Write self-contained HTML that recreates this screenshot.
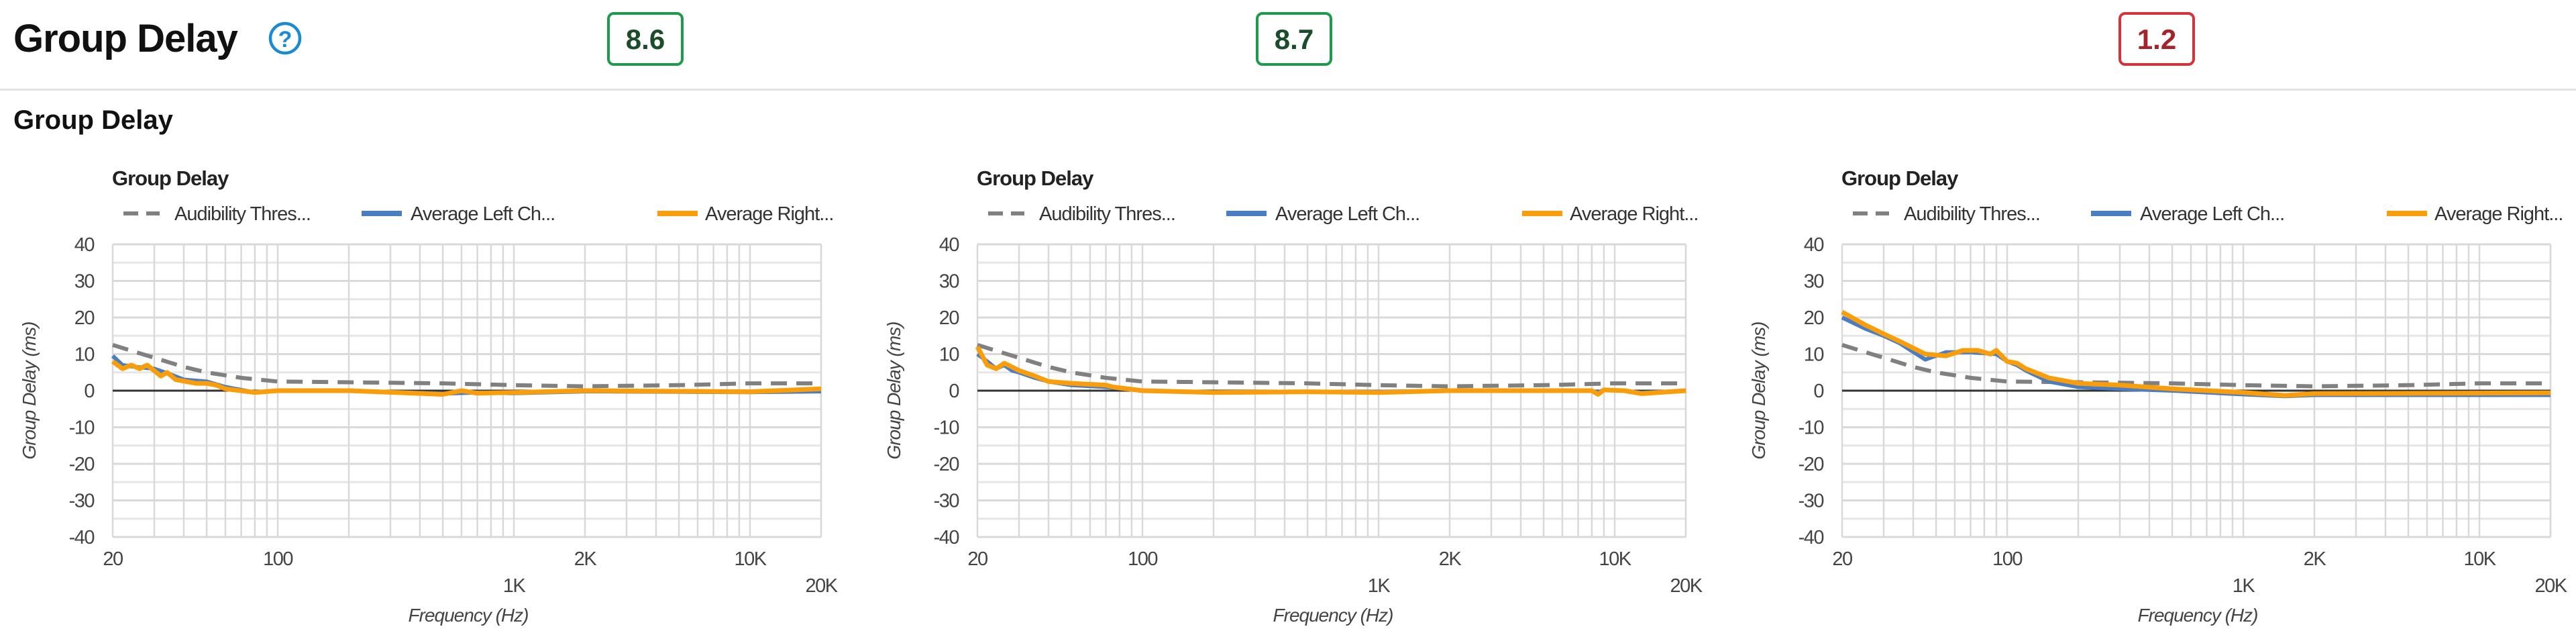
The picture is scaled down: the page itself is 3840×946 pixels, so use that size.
<!DOCTYPE html>
<html><head><meta charset="utf-8"><style>
html,body{margin:0;padding:0;background:#fff;width:3840px;height:946px;overflow:hidden}
svg{display:block;font-family:"Liberation Sans",Arial,sans-serif}
</style></head><body>
<svg id="page" width="3840" height="946" viewBox="0 0 3840 946" xmlns="http://www.w3.org/2000/svg">
<text x="20" y="77" font-size="58" font-weight="bold" fill="#111" letter-spacing="-1">Group Delay</text>
<g>
<circle cx="425" cy="57" r="22" fill="none" stroke="#1a8ad4" stroke-width="4.5"/>
<text x="425" y="70" font-size="34" font-weight="bold" fill="#1a8ad4" text-anchor="middle">?</text>
</g>
<g><rect x="907" y="20" width="110" height="76" rx="8" fill="#fff" stroke="#1e9a4b" stroke-width="4"/><text x="962" y="73" font-size="42" font-weight="bold" fill="#1b4d2a" text-anchor="middle">8.6</text></g>
<g><rect x="1874" y="20" width="110" height="76" rx="8" fill="#fff" stroke="#1e9a4b" stroke-width="4"/><text x="1929" y="73" font-size="42" font-weight="bold" fill="#1b4d2a" text-anchor="middle">8.7</text></g>
<g><rect x="3160" y="20" width="110" height="76" rx="8" fill="#fff" stroke="#d6323a" stroke-width="4"/><text x="3215" y="73" font-size="42" font-weight="bold" fill="#a5232a" text-anchor="middle">1.2</text></g>
<rect x="0" y="132" width="3840" height="3" fill="#e2e2e2"/>
<text x="20" y="192" font-size="40" font-weight="bold" fill="#111">Group Delay</text>
<g id="charts"></g>
</svg>
<script>
const freqThr=[20,30,40,50,70,100,200,500,1000,2000,5000,10000,20000];
const valThr=[12.5,9,6.5,5,3.5,2.5,2.3,2,1.5,1.2,1.5,2,2];

const freq1L=[20,22,25,30,35,40,50,60,80,100,200,500,700,1000,2000,10000,20000];
const val1L=[9.5,7,6.5,6,4.5,3,2.5,1,-0.5,0,0,-0.8,-0.5,-0.7,-0.2,-0.4,-0.2];
const freq1R=[20,22,24,26,28,32,34,37,45,50,55,60,80,100,200,500,600,700,1000,2000,10000,20000];
const val1R=[8,6,7,6,7,4,5,3,2,2,1.5,0.5,-0.5,0,0,-1,0,-0.7,-0.5,0,-0.3,0.5];

const freq2L=[20,22,24,26,28,30,35,40,50,70,100,200,500,1000,2000,8000,8500,9000,11000,13000,20000];
const val2L=[10,8,6,7,5.5,5,3.5,2.5,1.5,1,0,-0.5,-0.3,-0.3,0,0,-0.5,0.2,0,-0.6,0];
const freq2R=[20,22,24,26,28,30,35,40,50,70,75,100,200,500,1000,2000,8000,8500,9000,11000,13000,20000];
const val2R=[12,7,6,7.5,6.5,5.5,4,2.5,2,1.5,1,0,-0.5,-0.3,-0.5,0,0,-1,0.2,0,-0.8,0];

const freq3L=[20,25,30,35,45,55,70,90,100,110,120,150,200,300,500,1000,1500,2000,20000];
const val3L=[20,17,15,13,8.5,10.5,10.5,10,8,7,5.5,2.5,1,0.5,0,-1,-1.5,-1.2,-1.2];
const freq3R=[20,25,30,35,45,55,65,75,85,90,100,110,120,150,200,300,500,1000,1500,2000,20000];
const val3R=[21.5,18,15.5,13.5,10,9.5,11,11,10,11,8,7.5,6,3.5,2,1.5,0.5,-0.5,-1.3,-0.8,-0.6];

const yTicks=[40,30,20,10,0,-10,-20,-30,-40];
const xTickUpper=[[20,"20"],[100,"100"],[2000,"2K"],[10000,"10K"]];
const xTickLower=[[1000,"1K"],[20000,"20K"]];
const legendNames=["Audibility Thres...","Average Left Ch...","Average Right..."];

const charts=[
 {left:168,fL:freq1L,vL:val1L,fR:freq1R,vR:val1R},
 {left:1457,fL:freq2L,vL:val2L,fR:freq2R,vR:val2R},
 {left:2746,fL:freq3L,vL:val3L,fR:freq3R,vR:val3R}
];
const NS="http://www.w3.org/2000/svg";
const W=1056,TOP=364,BOT=800;
function mk(tag,attrs,parent,txt){const e=document.createElementNS(NS,tag);for(const k in attrs)e.setAttribute(k,attrs[k]);if(txt!==undefined)e.textContent=txt;parent.appendChild(e);return e;}
const root=document.getElementById('charts');
charts.forEach((c,ci)=>{
 const g=mk('g',{},root);
 
 
 const L=c.left;
 const xs=f=>L+W*Math.log10(f/20)/3;
 const ys=v=>TOP+(40-v)/80*(BOT-TOP);
 const t=mk('text',{x:L-1,y:276,'font-size':31,'font-weight':'bold',fill:'#222','letter-spacing':'-1'},g,'Group Delay');
 
 
 const lg=mk('g',{},g);
 
 
 const lx=[[L+16,L+92],[L+371,L+444],[L+812,L+883]];
 const lcol=['#808080','#4a7ec4','#f99d0a'];
 lx.forEach((p,i)=>{
  const e=mk('g',{},lg);
  
  
  if(i===0){mk('line',{x1:p[0],y1:318,x2:p[0]+54,y2:318,stroke:lcol[0],'stroke-width':6,'stroke-dasharray':'22,12'},e);}
  else mk('line',{x1:p[0],y1:318,x2:p[0]+60,y2:318,stroke:lcol[i],'stroke-width':8},e);
  mk('text',{x:p[1],y:328,'font-size':29,fill:'#333','letter-spacing':'-1'},e,legendNames[i]);
 });
 const gr=mk('g',{},g);
 
 
 for(let v=-35;v<=35;v+=10) mk('line',{x1:L,x2:L+W,y1:ys(v),y2:ys(v),stroke:'#e6e6e6','stroke-width':3},gr);
 for(let v=-40;v<=40;v+=10) mk('line',{x1:L,x2:L+W,y1:ys(v),y2:ys(v),stroke:'#d9d9d9','stroke-width':3},gr);
 for(let d=10;d<=10000;d*=10) for(let m=1;m<=9;m++){const f=d*m;if(f<20||f>20000)continue;mk('line',{x1:xs(f),x2:xs(f),y1:TOP,y2:BOT,stroke:'#d9d9d9','stroke-width':2.5},gr);}
 mk('line',{x1:xs(20000),x2:xs(20000),y1:TOP,y2:BOT,stroke:'#d9d9d9','stroke-width':2.5},gr);
 mk('line',{x1:L,x2:L+W,y1:ys(0),y2:ys(0),stroke:'#333','stroke-width':3},gr);
 yTicks.forEach(v=>{const e=mk('text',{x:L-28,y:ys(v)+10,'font-size':29,fill:'#444','text-anchor':'end','letter-spacing':'-1.5'},g,String(v));
  
  });
 xTickUpper.forEach(p=>{const e=mk('text',{x:xs(p[0]),y:842,'font-size':29,fill:'#444','text-anchor':'middle','letter-spacing':'-1.5'},g,p[1]);
  
  });
 xTickLower.forEach(p=>{const e=mk('text',{x:xs(p[0]),y:882,'font-size':29,fill:'#444','text-anchor':'middle','letter-spacing':'-1.5'},g,p[1]);
  
  });
 const xt=mk('text',{x:L+530,y:926,'font-size':28,'font-style':'italic',fill:'#444','text-anchor':'middle','letter-spacing':'-1'},g,'Frequency (Hz)');
 
 
 const yt=mk('text',{x:0,y:0,'font-size':28,'font-style':'italic',fill:'#444','text-anchor':'middle','letter-spacing':'-1',transform:`translate(${L-115},582) rotate(-90)`},g,'Group Delay (ms)');
 
 
 const path=(fs,vs)=>fs.map((f,i)=>(i?'L':'M')+xs(f).toFixed(1)+','+ys(vs[i]).toFixed(1)).join(' ');
 const th=mk('path',{d:path(freqThr,valThr),fill:'none',stroke:'#808080','stroke-width':6,'stroke-dasharray':'24,14'},g);
 
 
 const lp=mk('path',{d:path(c.fL,c.vL),fill:'none',stroke:'#4a7ec4','stroke-width':6,'stroke-linejoin':'round'},g);
 
 
 const rp=mk('path',{d:path(c.fR,c.vR),fill:'none',stroke:'#f99d0a','stroke-width':7,'stroke-linejoin':'round'},g);
 
 
});
</script>
</body></html>
